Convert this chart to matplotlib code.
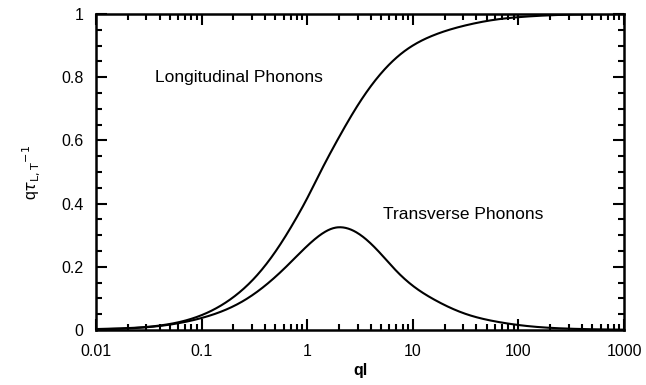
import numpy as np
import matplotlib
matplotlib.use("Agg")
import matplotlib.pyplot as plt
from matplotlib.ticker import MultipleLocator, LogLocator, FixedLocator, NullFormatter

plt.rcParams['font.family'] = ['Liberation Sans', 'DejaVu Sans']

# Longitudinal phonons
ql_long = [0.01, 0.02, 0.05, 0.1, 0.2, 0.316, 0.5, 0.794, 1.0, 1.32, 2.0, 3.16, 5.0, 7.94,
           15.8, 31.6, 63.1, 100.0, 200.0, 398.0, 1000.0]
qtau_long = [0.003, 0.006, 0.019, 0.047, 0.104, 0.164, 0.248, 0.356, 0.417, 0.497, 0.61, 0.722, 0.812, 0.877,
             0.933, 0.964, 0.983, 0.99, 0.996, 0.999, 1.0]

# Transverse phonons
ql_trans = [0.01, 0.02, 0.05, 0.1, 0.158, 0.251, 0.398, 0.631, 1.0, 1.26, 1.58, 1.86, 2.24, 2.82,
            3.55, 5.01, 7.08, 10.0, 15.8, 31.6, 63.1, 126.0, 316.0, 1000.0]
qtau_trans = [0.002, 0.005, 0.017, 0.038, 0.06, 0.093, 0.14, 0.2, 0.266, 0.295, 0.316, 0.324, 0.324, 0.312,
              0.289, 0.24, 0.185, 0.14, 0.097, 0.051, 0.026, 0.012, 0.004, 0.001]

x_ticks = [0.01, 0.1, 1, 10, 100, 1000]
x_tick_labels = ['0.01', '0.1', '1', '10', '100', '1000']
y_ticks = [0, 0.2, 0.4, 0.6, 0.8, 1]
y_tick_labels = ['0', '0.2', '0.4', '0.6', '0.8', '1']

fig = plt.figure(figsize=(6.46, 3.85), dpi=100)
ax = fig.add_axes([96/646, 55/385, (624-96)/646, (330-14)/385])


def spline(xs, ys, n=800):
    """Natural cubic spline through the read points, in log10(x)."""
    x = np.log10(np.asarray(xs, float))
    y = np.asarray(ys, float)
    k = len(x)
    h = np.diff(x)
    A = np.zeros((k, k))
    r = np.zeros(k)
    A[0, 0] = A[-1, -1] = 1.0
    for i in range(1, k - 1):
        A[i, i - 1] = h[i - 1]
        A[i, i] = 2 * (h[i - 1] + h[i])
        A[i, i + 1] = h[i]
        r[i] = 6 * ((y[i + 1] - y[i]) / h[i] - (y[i] - y[i - 1]) / h[i - 1])
    M = np.linalg.solve(A, r)
    t = np.linspace(x[0], x[-1], n)
    idx = np.clip(np.searchsorted(x, t) - 1, 0, k - 2)
    x0, x1 = x[idx], x[idx + 1]
    hh = h[idx]
    out = (M[idx] * (x1 - t) ** 3 / (6 * hh) + M[idx + 1] * (t - x0) ** 3 / (6 * hh)
           + (y[idx] / hh - M[idx] * hh / 6) * (x1 - t)
           + (y[idx + 1] / hh - M[idx + 1] * hh / 6) * (t - x0))
    return 10 ** t, np.clip(out, 0, 1)


xl, yl = spline(ql_long, qtau_long)
xt, yt = spline(ql_trans, qtau_trans)
ax.plot(xl, yl, color='black', lw=1.5, solid_capstyle='butt')
ax.plot(xt, yt, color='black', lw=1.5, solid_capstyle='butt')

ax.set_xscale('log')
ax.set_xlim(0.01, 1000)
ax.set_ylim(0, 1)
ax.xaxis.set_major_locator(FixedLocator(x_ticks))
ax.set_xticklabels(x_tick_labels)
ax.xaxis.set_minor_locator(LogLocator(base=10, subs=np.arange(2, 10), numticks=20))
ax.xaxis.set_minor_formatter(NullFormatter())
ax.set_yticks(y_ticks)
ax.set_yticklabels(y_tick_labels)
ax.yaxis.set_minor_locator(MultipleLocator(0.05))

ax.tick_params(which='both', direction='in', top=True, right=True, width=1.5, labelsize=11.5)
ax.tick_params(axis='x', pad=10)
ax.tick_params(axis='y', pad=9)
ax.tick_params(which='major', length=8)
ax.tick_params(which='minor', length=4)
for sp in ax.spines.values():
    sp.set_linewidth(1.8)

ax.text(0.0362, 0.80, 'Longitudinal Phonons', fontsize=12.5, ha='left', va='center')
ax.text(5.22, 0.364, 'Transverse Phonons', fontsize=12.5, ha='left', va='center')

ax.set_xlabel('ql', fontsize=11.5, fontweight='bold', labelpad=3)
ax.set_ylabel(r'q$\tau_{\mathrm{L,T}}$$^{-1}$', fontsize=11.5, labelpad=14)

fig.savefig('out.png', dpi=100)
